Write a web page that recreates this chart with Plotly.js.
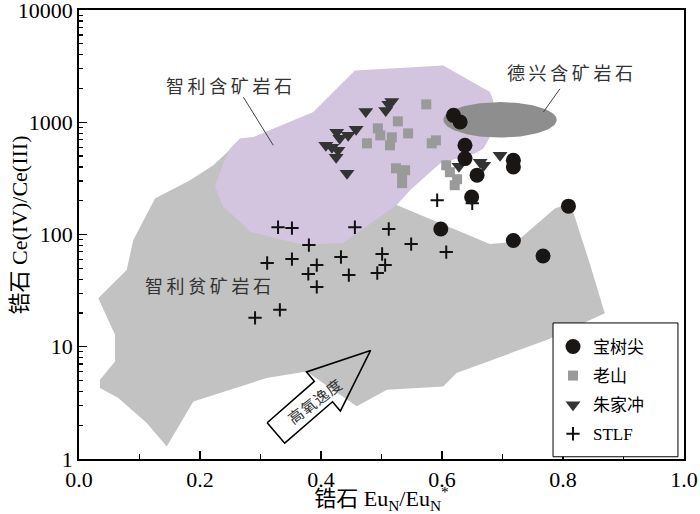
<!DOCTYPE html>
<html><head><meta charset="utf-8">
<script src="https://cdn.plot.ly/plotly-3.0.1.min.js"></script>
<style>html,body{margin:0;padding:0;background:#fff}</style>
</head><body><div id="chart" style="width:700px;height:514px"></div>
<script>
// ---- data: 宝树尖 (circles)
const bsjX = [0.619,0.630,0.638,0.638,0.658,0.649,0.718,0.718,0.809,0.598,0.718,0.767];
const bsjY = [1153,1005,624,475,338,216,459,400,179,112,88.3,64.3];
// ---- 老山 (squares)
const lsX = [0.574,0.527,0.494,0.498,0.476,0.517,0.514,0.544,0.583,0.590,0.524,0.539,0.534,0.534,0.607,0.613,0.625,0.621];
const lsY = [1445,1020,883,765,650,735,624,797,650,691,389,374,324,287,414,359,311,275];
// ---- 朱家冲 (triangles)
const zjcX = [0.474,0.507,0.512,0.517,0.458,0.445,0.426,0.431,0.408,0.418,0.428,0.425,0.443,0.628,0.663,0.669,0.696];
const zjcY = [1251,1277,1445,1536,865,765,814,720,624,599,563,488,352,406,440,414,508];
// ---- STLF (crosses)
const stlfX = [0.329,0.352,0.456,0.512,0.592,0.650,0.380,0.311,0.352,0.433,0.393,0.379,0.393,0.446,0.501,0.506,0.493,0.549,0.607,0.332,0.291];
const stlfY = [116,114,116,112,202,190,80.5,55.7,60.4,63,53.4,44.5,34.1,43.5,67,53.4,45.4,82.2,69.7,21.3,18.1];
// ---- region: 智利贫矿岩石 (gray field)
const poorX = [0.1256,0.0898,0.0788,0.0319,0.0595,0.0595,0.0347,0.0347,0.065,0.112,0.145,0.172,0.189,0.310,0.376,0.459,0.509,0.602,0.624,0.773,0.869,0.845,0.817,0.808,0.787,0.723,0.679,0.525,0.269,0.222,0.1835];
const poorY = [209,89.2,48.3,27.0,12.8,7.38,5.07,4.28,3.49,2.09,1.29,2.24,3.25,5.25,6.01,2.94,4.13,4.42,5.82,11.5,19.9,53.4,158,186,171,86.1,82.2,183,716,414,305];
// ---- region: 智利含矿岩石 (purple field)
const richX = [0.2248,0.2385,0.2496,0.2661,0.2881,0.3873,0.4562,0.6021,0.6793,0.6848,0.6793,0.6683,0.6545,0.5967,0.5471,0.5251,0.4369,0.3707,0.2826,0.2661,0.2385];
const richY = [266,429,583,716,739,1233,2897,3209,1858,1567,739,583,526,429,248,183,84.4,80.5,106,130,176];
// ---- region: 德兴含矿岩石 (ellipse): centre x, centre log10(y), half-width x, half-height log10
const dxCenterX = 0.696, dxCenterLogY = 3.022, dxHalfX = 0.0937, dxHalfLogY = 0.158;
// ---- oxygen fugacity arrow outline
const arrowX = [0.311,0.389,0.376,0.482,0.432,0.419,0.340,0.311];
const arrowY = [2.10,4.91,5.95,9.26,2.67,3.23,1.38,2.10];
// ---- leader lines
const leadChileX = [0.2716,0.3211], leadChileY = [1677,624];
const leadDxX = [0.795,0.7675], leadDxY = [1991,1233];
// ---- tick values
const yMajor = [1,10,100,1000,10000];
const yMajorText = ['1','10','100','1000','10000'];
const yMinor = [];
for (let d = 1; d < 10000; d *= 10) for (let k = 2; k <= 9; k++) yMinor.push(k*d);

const ellX = [], ellY = [];
for (let i = 0; i <= 120; i++) {
  const t = 2*Math.PI*i/120;
  ellX.push(dxCenterX + dxHalfX*Math.cos(t));
  ellY.push(Math.pow(10, dxCenterLogY + dxHalfLogY*Math.sin(t)));
}

const FONT = 'Liberation Serif, "Noto Sans CJK SC", serif';
const CJK = '"Noto Sans CJK SC", sans-serif';
const YR = [-0.001, 4.001];

const traces = [
  {x: poorX, y: poorY, mode:'lines', fill:'toself', fillcolor:'#c2c2c2', line:{width:0}, showlegend:false, hoverinfo:'skip'},
  {x: richX, y: richY, mode:'lines', fill:'toself', fillcolor:'#d3c4df', line:{width:0}, showlegend:false, hoverinfo:'skip'},
  {x: ellX, y: ellY, mode:'lines', fill:'toself', fillcolor:'#8e8e8e', line:{width:0}, showlegend:false, hoverinfo:'skip'},
  {x: arrowX, y: arrowY, mode:'lines', line:{color:'#000', width:1.6}, showlegend:false, hoverinfo:'skip'},
  {x: leadChileX, y: leadChileY, mode:'lines', line:{color:'#444', width:1}, showlegend:false, hoverinfo:'skip'},
  {x: leadDxX, y: leadDxY, mode:'lines', line:{color:'#444', width:1}, showlegend:false, hoverinfo:'skip'},
  {x: lsX, y: lsY, mode:'markers', name:'老山', legendgroup:'b', legendrank:2, marker:{symbol:'square', size:10, color:'#9a9a9a'}},
  {x: zjcX, y: zjcY, mode:'markers', name:'朱家冲', legendgroup:'c', legendrank:3, marker:{symbol:'triangle-down', size:13, color:'#333333'}},
  {x: stlfX, y: stlfY, mode:'markers', name:'STLF', legendgroup:'d', legendrank:4, marker:{symbol:'cross-thin', size:9.5, color:'#111', line:{color:'#111', width:2}}},
  {x: bsjX, y: bsjY, mode:'markers', name:'宝树尖', legendgroup:'a', legendrank:1, marker:{symbol:'circle', size:15, color:'#1a1614'}}
];

const layout = {
  width:700, height:514,
  margin:{l:79, r:16, t:10, b:55},
  paper_bgcolor:'#fff', plot_bgcolor:'#fff',
  font:{family:FONT, size:22, color:'#000'},
  showlegend:true,
  legend:{x:0.7835, y:0.2897, xanchor:'left', yanchor:'top', bgcolor:'rgba(0,0,0,0)', borderwidth:0,
          tracegroupgap:4, font:{family:FONT, size:17, color:'#000'}},
  xaxis:{range:[0,1], dtick:0.2, tick0:0, tickformat:'.1f', ticks:'inside', ticklen:8, tickwidth:1.5, tickcolor:'#000',
         minor:{ticks:'inside', dtick:0.1, ticklen:5, tickwidth:1.5, tickcolor:'#000'},
         tickfont:{family:FONT, size:22},
         showline:true, mirror:true, linewidth:1.8, linecolor:'#000', showgrid:false, zeroline:false,
         title:{text:'锆石 Eu<sub>N</sub>/Eu<sub>N</sub><sup>*</sup>', font:{family:FONT, size:22}, standoff:2}},
  yaxis:{type:'log', range:YR, tickmode:'array', tickvals:yMajor, ticktext:yMajorText, ticklabeloverflow:'allow',
         ticks:'inside', ticklen:8, tickwidth:1.5, tickcolor:'#000',
         tickfont:{family:FONT, size:22},
         showline:true, mirror:true, linewidth:1.8, linecolor:'#000', showgrid:false, zeroline:false},
  yaxis2:{type:'log', range:YR, overlaying:'y', side:'left', tickmode:'array', tickvals:yMinor,
          showticklabels:false, ticks:'inside', ticklen:4, tickwidth:1.2, tickcolor:'#000',
          showline:false, showgrid:false, zeroline:false},
  shapes:[
    {type:'rect', xref:'paper', yref:'paper', x0:0.7835, x1:0.990, y0:0.005, y1:0.303, layer:'above',
     fillcolor:'#fff', line:{color:'#000', width:1}}
  ],
  annotations:[
    {x:-0.0975, y:0.52, xref:'paper', yref:'paper', xanchor:'center', yanchor:'middle', text:'锆石 Ce(IV)/Ce(III)', textangle:-90, showarrow:false, font:{family:FONT, size:22, color:'#000'}},
    {x:0.248, y:3.329, xref:'x', yref:'y', text:'智\u2009利\u2009含\u2009矿\u2009岩\u2009石', showarrow:false, font:{family:CJK, size:18, color:'#333'}},
    {x:0.2124, y:1.550, xref:'x', yref:'y', text:'智\u2009利\u2009贫\u2009矿\u2009岩\u2009石', showarrow:false, font:{family:CJK, size:18, color:'#333'}},
    {x:0.8116, y:3.444, xref:'x', yref:'y', text:'德\u2009兴\u2009含\u2009矿\u2009岩\u2009石', showarrow:false, font:{family:CJK, size:18, color:'#333'}},
    {x:0.390, y:0.518, xref:'x', yref:'y', text:'高\u200a氧\u200a逸\u200a度', textangle:-37, showarrow:false, font:{family:CJK, size:15, color:'#333'}}
  ]
};

// invisible trace to activate the minor-tick overlay axis
traces.push({x:[0.5], y:[10], yaxis:'y2', mode:'markers', marker:{opacity:0}, showlegend:false, hoverinfo:'skip'});

Plotly.newPlot('chart', traces, layout, {displayModeBar:false, staticPlot:true});
</script>
</body></html>
